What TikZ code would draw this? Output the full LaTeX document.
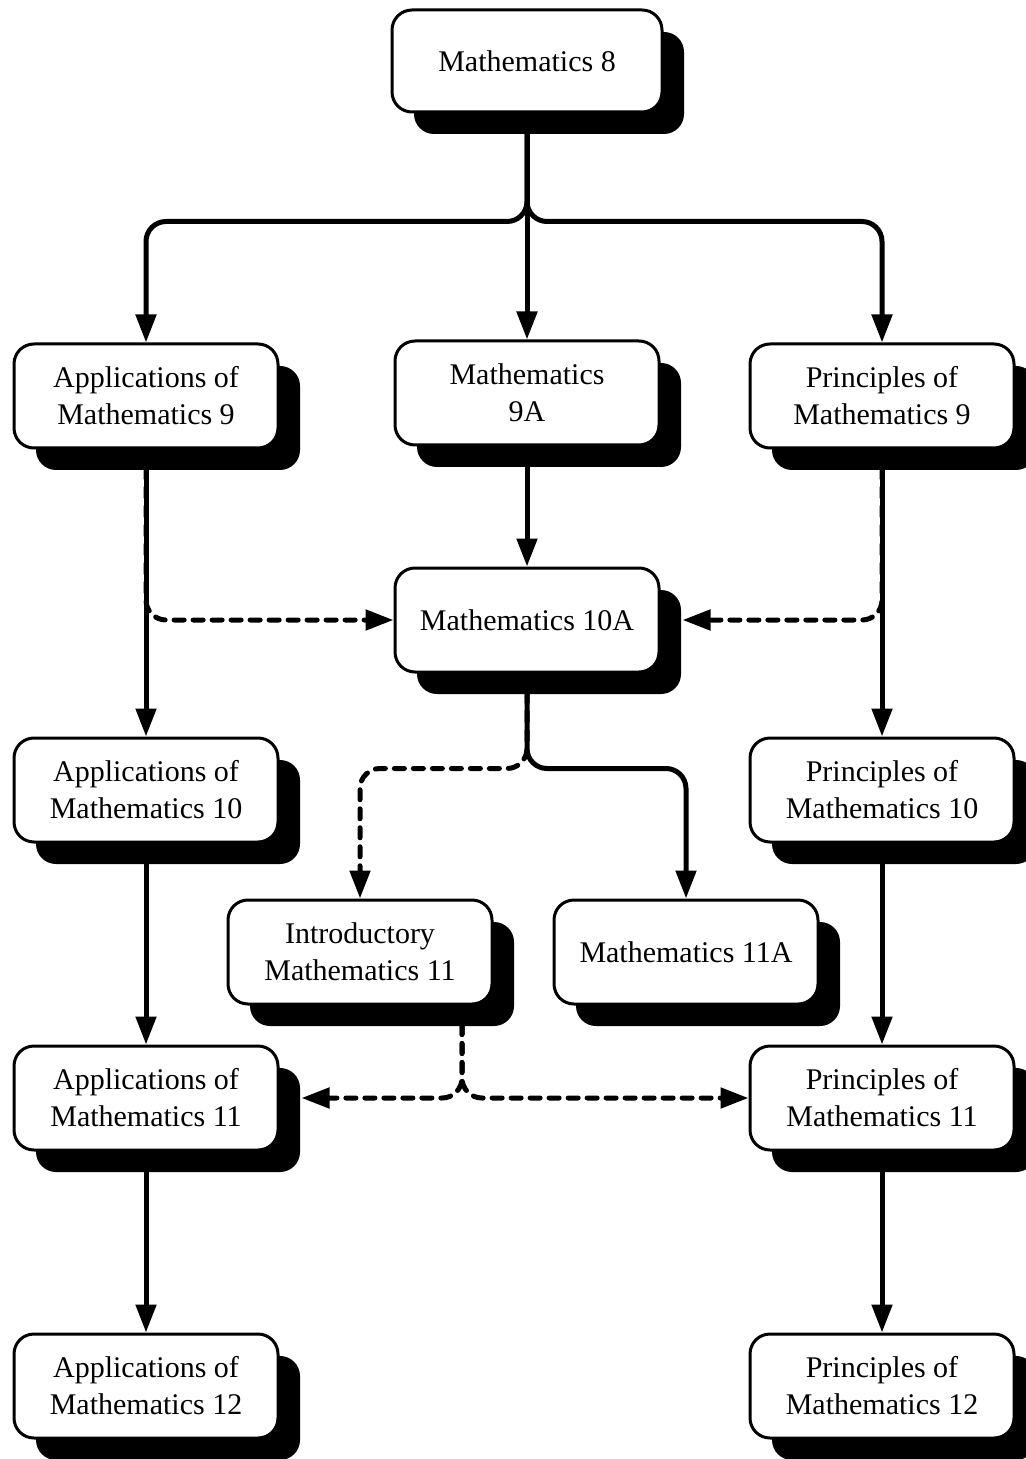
\documentclass[tikz,border=0pt]{standalone}
\usepackage{fontspec}
\setmainfont{Liberation Serif}
\usetikzlibrary{arrows.meta,positioning,shadows}

\begin{document}
\begin{tikzpicture}[x=0.5pt, y=-0.5pt, >={Triangle[length=14pt,width=10pt]},
  course/.style={draw, line width=1.5pt, rounded corners=10pt, fill=white, align=center,
    font=\fontsize{15}{18.5}\selectfont, minimum width=132pt, minimum height=52pt, inner sep=2pt,
    drop shadow={shadow xshift=11pt, shadow yshift=-11pt, fill=black, opacity=1}},
  link/.style={->, line width=2.5pt, rounded corners=10pt},
  option/.style={link, dash pattern=on 5pt off 4.5pt, line cap=round}]
  \useasboundingbox (0,0) rectangle (1026,1459);
  % grade 8 and 9
  \node[course, minimum width=135pt, minimum height=51pt] (m8) at (527,61) {Mathematics 8};
  \node[course] (app9) at (146,396) {Applications of\\Mathematics 9};
  \node[course] (m9a) at (527,393) {Mathematics\\9A};
  \node[course] (prin9) at (882,396) {Principles of\\Mathematics 9};
  % grade 10
  \node[course] (m10a) at (527,620) {Mathematics 10A};
  \node[course] (app10) at (146,790) {Applications of\\Mathematics 10};
  \node[course] (prin10) at (882,790) {Principles of\\Mathematics 10};
  % grade 11
  \node[course] (intro11) at (360,952) {Introductory\\Mathematics 11};
  \node[course] (m11a) at (686,952) {Mathematics 11A};
  \node[course] (app11) at (146,1098) {Applications of\\Mathematics 11};
  \node[course] (prin11) at (882,1098) {Principles of\\Mathematics 11};
  % grade 12
  \node[course] (app12) at (146,1386) {Applications of\\Mathematics 12};
  \node[course] (prin12) at (882,1386) {Principles of\\Mathematics 12};

  \draw[link] (m8.south) -- ++(0,108) -| (app9.north);
  \draw[link] (m8.south) -- ++(0,108) -| (prin9.north);
  \draw[link] (m8.south) -- (m9a.north);
  \draw[link] (m9a.south) -- (m10a.north);
  \draw[link] (app9.south) -- (app10.north);
  \draw[link] (prin9.south) -- (prin10.north);
  \draw[option] (app9.south) -- (app9.south |- m10a.west) -- (m10a.west);
  \draw[option] (prin9.south) -- (prin9.south |- m10a.east) -- ([xshift=11pt]m10a.east);
  \draw[link] (m10a.south) -- ++(0,95) -| (m11a.north);
  \draw[option] (m10a.south) -- ++(0,95) -| (intro11.north);
  \draw[link] (app10.south) -- (app11.north);
  \draw[link] (prin10.south) -- (prin11.north);
  \draw[option] ([xshift=51pt]intro11.south) |- ([xshift=11pt]app11.east);
  \draw[option] ([xshift=51pt]intro11.south) |- (prin11.west);
  \draw[link] (app11.south) -- (app12.north);
  \draw[link] (prin11.south) -- (prin12.north);
\end{tikzpicture}
\end{document}
